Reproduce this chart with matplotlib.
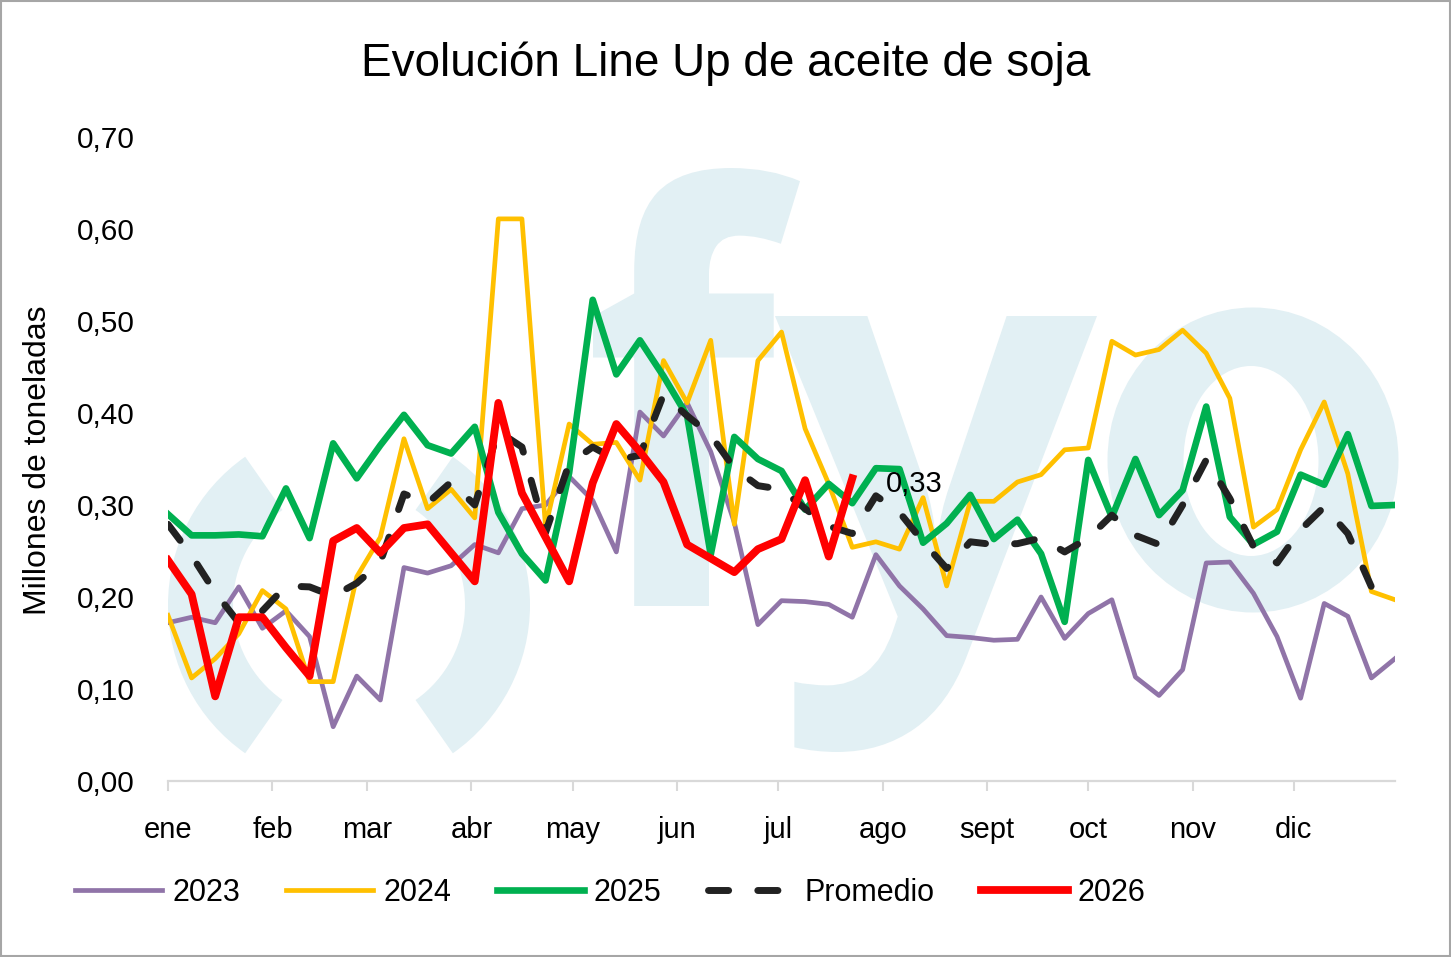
import matplotlib
matplotlib.use("Agg")
import matplotlib.pyplot as plt
from matplotlib.patches import Wedge, Ellipse, PathPatch, Rectangle
from matplotlib.textpath import TextPath
from matplotlib.font_manager import FontProperties
from matplotlib.transforms import Affine2D

plt.rcParams['font.family'] = ['Liberation Sans', 'DejaVu Sans']

# weekly data (53 weeks)
y2023 = [0.172, 0.178, 0.172, 0.211, 0.166, 0.185, 0.157, 0.059, 0.114, 0.088,
         0.232, 0.226, 0.234, 0.257, 0.248, 0.296, 0.300, 0.331, 0.305, 0.249,
         0.401, 0.375, 0.411, 0.358, 0.281, 0.170, 0.196, 0.195, 0.192, 0.178,
         0.246, 0.212, 0.187, 0.158, 0.156, 0.153, 0.154, 0.200, 0.155, 0.182,
         0.197, 0.113, 0.093, 0.121, 0.237, 0.238, 0.204, 0.157, 0.090, 0.193,
         0.179, 0.112, 0.133]
y2024 = [0.180, 0.112, 0.133, 0.160, 0.207, 0.187, 0.108, 0.108, 0.222, 0.265,
         0.372, 0.296, 0.317, 0.286, 0.611, 0.611, 0.276, 0.388, 0.366, 0.368,
         0.327, 0.457, 0.411, 0.479, 0.279, 0.457, 0.488, 0.383, 0.323, 0.254,
         0.260, 0.252, 0.308, 0.212, 0.304, 0.304, 0.325, 0.333, 0.360, 0.362,
         0.478, 0.463, 0.469, 0.490, 0.465, 0.416, 0.276, 0.295, 0.360, 0.412,
         0.334, 0.206, 0.197]
y2025 = [0.290, 0.267, 0.267, 0.268, 0.266, 0.318, 0.264, 0.367, 0.329, 0.365,
         0.398, 0.365, 0.356, 0.385, 0.292, 0.247, 0.218, 0.335, 0.523, 0.442,
         0.479, 0.440, 0.397, 0.246, 0.374, 0.350, 0.337, 0.295, 0.323, 0.302,
         0.340, 0.339, 0.259, 0.280, 0.311, 0.263, 0.284, 0.247, 0.173, 0.349,
         0.287, 0.350, 0.289, 0.316, 0.407, 0.287, 0.257, 0.271, 0.333, 0.322,
         0.377, 0.299, 0.300]
promedio = [0.279, 0.245, 0.205, 0.172, 0.185, 0.212, 0.211, 0.201, 0.215, 0.238,
            0.312, 0.302, 0.325, 0.300, 0.380, 0.363, 0.270, 0.345, 0.363, 0.349,
            0.354, 0.420, 0.397, 0.376, 0.340, 0.321, 0.317, 0.296, 0.277, 0.269,
            0.310, 0.292, 0.260, 0.231, 0.260, 0.257, 0.258, 0.264, 0.249, 0.264,
            0.289, 0.267, 0.257, 0.300, 0.349, 0.307, 0.255, 0.237, 0.273, 0.298,
            0.269, 0.211, 0.204]
y2026 = [0.240, 0.203, 0.092, 0.178, 0.178, 0.145, 0.114, 0.261, 0.275, 0.248,
         0.275, 0.279, 0.248, 0.217, 0.411, 0.313, 0.265, 0.217, 0.324, 0.388,
         0.358, 0.325, 0.257, 0.242, 0.227, 0.252, 0.263, 0.327, 0.244, 0.329]

meses = ['ene', 'feb', 'mar', 'abr', 'may', 'jun', 'jul', 'ago', 'sept', 'oct', 'nov', 'dic']
dias_mes = [0, 31, 59, 90, 120, 151, 181, 212, 243, 273, 304, 334]

W, H = 1451, 957
fig = plt.figure(figsize=(W / 100, H / 100), dpi=100)

# watermark layer in pixel coordinates
bg = fig.add_axes([0, 0, 1, 1], zorder=0)
bg.set_xlim(0, W)
bg.set_ylim(H, 0)
bg.axis('off')
wm = '#e2f0f4'
bg.add_patch(Wedge((349, 605), 181, 125, 235, width=65, color=wm, lw=0))
bg.add_patch(Wedge((349, 605), 181, -55, 55, width=65, color=wm, lw=0))
fp = FontProperties(family='Open Sans', weight='bold')


def letra(ch, box):
    tp = TextPath((0, 0), ch, size=100, prop=fp)
    e = tp.get_extents()
    x0, y0, x1, y1 = box
    tr = Affine2D().translate(-e.x0, -e.y1).scale((x1 - x0) / e.width, -(y1 - y0) / e.height).translate(x0, y0)
    bg.add_patch(PathPatch(tr.transform_path(tp), color=wm, lw=0))


letra('f', (593, 168, 800, 606))
letra('y', (775, 316, 1097, 752))
bg.add_patch(Ellipse((1253, 460), 291, 305, color=wm, lw=0))
bg.add_patch(Ellipse((1251, 461), 135, 190, color='white', lw=0))

# border
fig.add_artist(Rectangle((0.0007, 0.001), 0.9986, 0.998, transform=fig.transFigure,
                         fill=False, edgecolor='#a6a6a6', lw=1.5))

ax = fig.add_axes([168 / W, (H - 781) / H, (1395 - 168) / W, (781 - 137) / H], zorder=1)
ax.patch.set_alpha(0)

x = [7 * i for i in range(len(y2023))]
x26 = x[:len(y2026)]

ax.plot(x, y2023, color='#9074a8', lw=3.4, label='2023', solid_joinstyle='round')
ax.plot(x, y2024, color='#ffc000', lw=3.4, label='2024', solid_joinstyle='round')
ax.plot(x, y2025, color='#00b050', lw=4.8, label='2025', solid_joinstyle='round')
ax.plot(x, promedio, color='#222222', lw=5, dashes=(2.9, 4.2), dash_capstyle='round',
        label='Promedio')
ax.plot(x26, y2026, color='#ff0000', lw=5.6, label='2026', solid_joinstyle='round')

ax.annotate('0,33', (x26[-1], y2026[-1]), xytext=(24, -4), textcoords='offset points',
            ha='left', va='center', fontsize=21, color='black')

ax.set_xlim(0, 364)
ax.set_ylim(0, 0.7)
ax.set_xticks(dias_mes)
ax.set_xticklabels(meses)
ax.set_yticks([i / 10 for i in range(8)])
ax.set_yticklabels(['0,%d0' % i for i in range(8)])

for s in ['top', 'right', 'left']:
    ax.spines[s].set_visible(False)
ax.spines['bottom'].set_color('#d9d9d9')
ax.spines['bottom'].set_linewidth(1.6)
ax.tick_params(axis='x', length=7, width=1.5, color='#d9d9d9', pad=18.5, labelsize=21)
ax.tick_params(axis='y', length=0, pad=24, labelsize=21.5)

fig.text(0.5, 1 - 76 / H, 'Evolución Line Up de aceite de soja', ha='center', va='baseline',
         fontsize=33)
fig.text(38 / W, 1 - 460 / H, 'Millones de toneladas', rotation=90, ha='center', va='center',
         fontsize=23)

fig.legend(handles=ax.get_lines(), loc='center left', bbox_to_anchor=(75 / W, 1 - 893 / H),
           ncol=5, frameon=False, fontsize=22, handlelength=2.85, handletextpad=0.33,
           columnspacing=1.5, borderpad=0, borderaxespad=0)

fig.savefig('out.png', dpi=100)
